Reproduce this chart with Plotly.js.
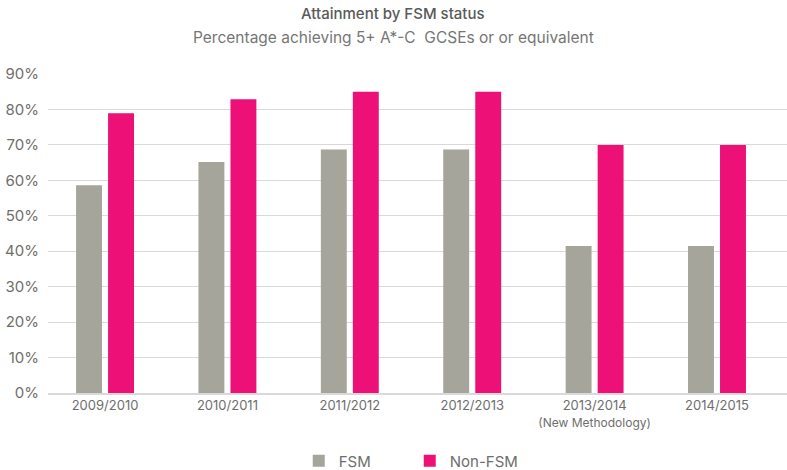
<!DOCTYPE html>
<html>
<head>
<meta charset="utf-8">
<script src="https://cdn.plot.ly/plotly-3.0.1.min.js"></script>
<style>html,body{margin:0;padding:0;background:#fff}#chart{width:787px;height:470px}</style>
</head>
<body>
<div id="chart"></div>
<script>
const categories = ["2009/2010", "2010/2011", "2011/2012", "2012/2013", "2013/2014", "2014/2015"];
const tickLabels = ["2009/2010", "2010/2011", "2011/2012", "2012/2013",
  "2013/2014<br><span style='font-size:12px'>(New Methodology)</span>", "2014/2015"];
const fsm = [58.6, 65.2, 68.7, 68.7, 41.5, 41.5];
const nonFsm = [78.9, 82.9, 85, 85, 70, 70];
const yTicks = [0, 10, 20, 30, 40, 50, 60, 70, 80, 90];

const font = "Inter, 'Open Sans', sans-serif";

const traces = [
  {type: "bar", name: "FSM", x: categories, y: fsm, marker: {color: "#a5a59b"}, hoverinfo: "skip"},
  {type: "bar", name: "Non-FSM", x: categories, y: nonFsm, marker: {color: "#ec1077"}, hoverinfo: "skip"}
];

const layout = {
  width: 787, height: 470,
  margin: {l: 48, r: 0, t: 74, b: 77, autoexpand: false},
  paper_bgcolor: "#fff", plot_bgcolor: "#fff",
  font: {family: font, color: "#6e6e6e"},
  barmode: "group", bargap: 0.477, bargroupgap: 0.19,
  xaxis: {
    type: "category", range: [-0.466, 5.572],
    tickvals: categories, ticktext: tickLabels,
    tickfont: {size: 13, color: "#6e6e6e"},
    showline: true, linecolor: "#d9d9d9", linewidth: 1.5,
    ticks: "", showgrid: false, fixedrange: true
  },
  yaxis: {
    range: [0, 90], tickvals: yTicks, ticktext: yTicks.map(v => v + "%"),
    tickfont: {size: 15, color: "#6e6e6e"},
    gridcolor: "#d9d9d9", gridwidth: 1, zeroline: false,
    ticks: "", ticklabelstandoff: 8, fixedrange: true
  },
  showlegend: true,
  legend: {
    orientation: "h", x: 0.4895, xanchor: "center", y: -0.213, yanchor: "middle",
    font: {size: 15, color: "#6e6e6e"}, itemwidth: 30, entrywidth: 66
  },
  annotations: [
    {text: "Attainment by FSM status", xref: "paper", yref: "paper",
     x: 0.4675, y: 1.19, xanchor: "center", yanchor: "middle", showarrow: false,
     font: {family: font, size: 15, color: "#595959", weight: 500}},
    {text: "Percentage achieving 5+ A*-C  GCSEs or or equivalent", xref: "paper", yref: "paper",
     x: 0.4675, y: 1.115, xanchor: "center", yanchor: "middle", showarrow: false,
     font: {family: font, size: 15.5, color: "#767676"}}
  ]
};

Plotly.newPlot("chart", traces, layout, {displayModeBar: false, staticPlot: true});
</script>
</body>
</html>
